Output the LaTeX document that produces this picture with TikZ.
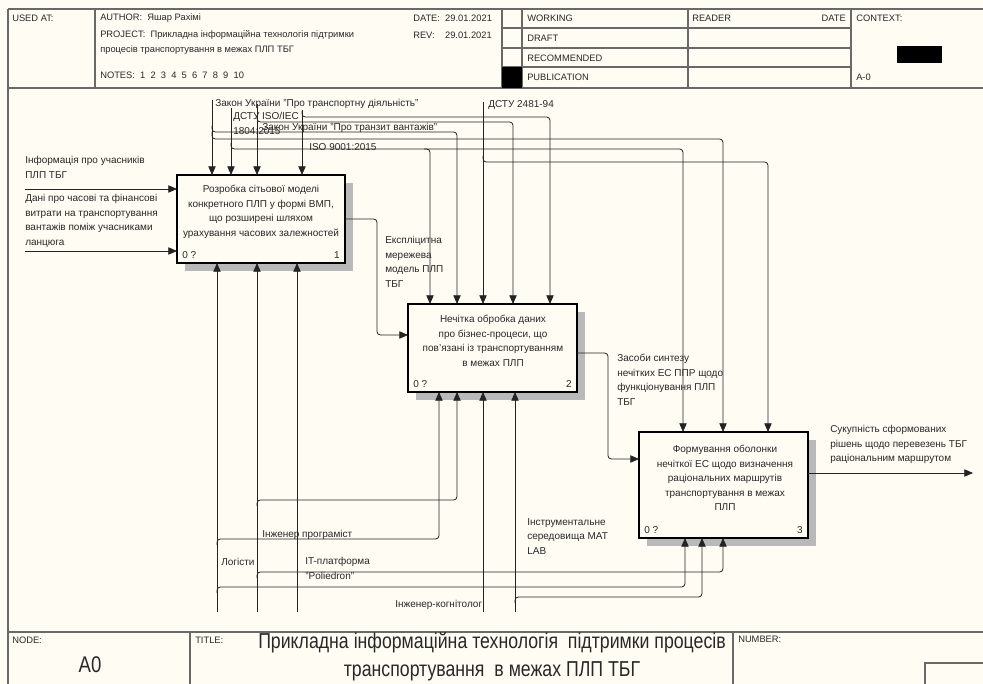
\documentclass[tikz,border=0pt]{standalone}
\usepackage{fontspec}
\setmainfont{Liberation Sans}
\newfontfamily\narrowfont[FakeStretch=0.82]{Liberation Sans}
\usetikzlibrary{arrows.meta,shadows}

\definecolor{paper}{RGB}{254,252,243}
\definecolor{frameline}{RGB}{105,105,105}
\definecolor{arrowline}{RGB}{35,35,35}
\definecolor{ink}{RGB}{40,40,40}

\newcommand{\lblfont}{\fontsize{7.5}{10.9}\selectfont}
\newcommand{\hdrfont}{\fontsize{7}{10}\selectfont}

\tikzset{
  frame/.style={draw=frameline,line width=0.9pt},
  heavy/.style={draw=frameline,line width=1.6pt},
  act/.style={draw=black,line width=1.5pt,fill=paper,inner sep=0pt,outer sep=0pt,
    drop shadow={shadow xshift=6pt,shadow yshift=-6pt,fill=gray!55,opacity=1}},
  arc/.style={draw=arrowline,line width=0.6pt,rounded corners=2.5pt,
    -{Triangle[length=6.5pt,width=5.5pt]}},
  lbl/.style={font=\lblfont,text=ink,align=left,anchor=north west,inner sep=0pt},
  boxtxt/.style={font=\lblfont,text=ink,align=center,inner sep=0pt},
  hdr/.style={font=\hdrfont,text=ink,anchor=west,inner sep=0pt},
}

\begin{document}
\begin{tikzpicture}[x=0.75pt,y=-0.75pt]
  % page
  \fill[paper] (0,0) rectangle (983,684);
  \useasboundingbox (0,0) rectangle (983,684);

  % header frame
  \draw[frame] (8,9) -- (983,9);
  \draw[frame] (8,9) -- (8,684);
  \draw[heavy] (8,88) -- (983,88);
  \draw[frame] (95,9) -- (95,88);
  \draw[frame] (502,9) -- (502,88);
  \draw[frame] (522,9) -- (522,88);
  \draw[frame] (688,9) -- (688,88);
  \draw[frame] (851,9) -- (851,88);
  \foreach \yy in {28,48,67}
    \draw[frame] (502,\yy) -- (851,\yy);
  \fill[black] (502,67) rectangle (522,88);
  \fill[black] (897,46) rectangle (942,63);

  % header texts
  \node[hdr] (usedat) at (12,18) {USED AT:};
  \node[hdr] (author) at (100,18) {AUTHOR:\ \ Яшар Рахімі};
  \node[hdr] (project) at (100,35) {PROJECT:\ \ Прикладна інформаційна технологія підтримки};
  \node[hdr] (project2) at (100,50) {процесів транспортування в межах ПЛП ТБГ};
  \node[hdr] (notes) at (100,75) {NOTES:\ \ 1\ \ 2\ \ 3\ \ 4\ \ 5\ \ 6\ \ 7\ \ 8\ \ 9\ \ 10};
  \node[hdr] (date) at (413,18) {DATE:\ \ 29.01.2021};
  \node[hdr] (rev) at (413,35) {REV:\ \ \ \ 29.01.2021};
  \node[hdr] (working) at (527,18) {WORKING};
  \node[hdr] (draft) at (527,38) {DRAFT};
  \node[hdr] (recom) at (527,58) {RECOMMENDED};
  \node[hdr] (public) at (527,77) {PUBLICATION};
  \node[hdr] (reader) at (692,18) {READER};
  \node[hdr,anchor=east] (rdate) at (846,18) {DATE};
  \node[hdr] (context) at (856,18) {CONTEXT:};
  \node[hdr] (aminus) at (856,77) {A-0};

  % footer frame
  \draw[heavy] (8,632) -- (983,632);
  \draw[frame] (190,632) -- (190,684);
  \draw[frame] (733,632) -- (733,684);
  \draw[frame] (925,684) -- (925,663) -- (983,663);
  \node[hdr] (nodehd) at (12,640) {NODE:};
  \node[hdr] (titlehd) at (195,640) {TITLE:};
  \node[hdr] (numberhd) at (738,639) {NUMBER:};
  \node[font=\narrowfont\fontsize{17}{20}\selectfont,text=ink] (nodeid) at (90,665) {A0};
  \node[font=\narrowfont\fontsize{16.2}{21}\selectfont,text=ink,align=center] (title) at (492,657)
    {Прикладна інформаційна технологія\ \ підтримки процесів\\транспортування\ \ в межах ПЛП ТБГ};

  % activity boxes
  \node[act,minimum width=126pt,minimum height=66pt] (b1) at (261,219) {};
  \node[act,minimum width=126.75pt,minimum height=66pt] (b2) at (492.5,348) {};
  \node[act,minimum width=126.75pt,minimum height=79.5pt] (b3) at (723.5,485) {};

  \node[boxtxt] (t1) at (261,212) {Розробка сітьової моделі\\конкретного ПЛП у формі ВМП,\\що розширені шляхом\\урахування часових залежностей};
  \node[boxtxt] (t2) at (493,341) {Нечітка обробка даних\\про бізнес-процеси, що\\пов'язані із транспортуванням\\в межах ПЛП};
  \node[boxtxt] (t3) at (725,478) {Формування оболонки\\нечіткої ЕС щодо визначення\\раціональних маршрутів\\транспортування в межах\\ПЛП};

  \node[lbl,anchor=south west] (n1) at ([shift={(5,-4)}]b1.south west) {0 ?};
  \node[lbl,anchor=south east] (k1) at ([shift={(-5,-4)}]b1.south east) {1};
  \node[lbl,anchor=south west] (n2) at ([shift={(5,-4)}]b2.south west) {0 ?};
  \node[lbl,anchor=south east] (k2) at ([shift={(-5,-4)}]b2.south east) {2};
  \node[lbl,anchor=south west] (n3) at ([shift={(5,-4)}]b3.south west) {0 ?};
  \node[lbl,anchor=south east] (k3) at ([shift={(-5,-4)}]b3.south east) {3};

  % free ends
  \coordinate (i1) at (25,189);
  \coordinate (i2) at (25,251);
  \coordinate (c1) at (212,100);
  \coordinate (c2) at (231,108);
  \coordinate (c3) at (257,104);
  \coordinate (c4) at (302,110);
  \coordinate (c5) at (483,102);
  \coordinate (m1) at (217,612);
  \coordinate (m2) at (257,612);
  \coordinate (m3) at (297,612);
  \coordinate (m4) at (483,612);
  \coordinate (m5) at (515,612);
  \coordinate (o3) at (973,473);

  % inputs
  \draw[arc] (i1) -- (i1 -| b1.west);
  \draw[arc] (i2) -- (i2 -| b1.west);
  \node[lbl] (li1) at (25,156) {Інформація про учасників\\ПЛП ТБГ};
  \node[lbl] (li2) at (25,194) {Дані про часові та фінансові\\витрати на транспортування\\вантажів поміж учасниками\\ланцюга};

  % controls
  \draw[arc] (c1) -- (c1 |- b1.north);
  \draw[arc] (c2) -- (c2 |- b1.north);
  \draw[arc] (c3) -- (c3 |- b1.north);
  \draw[arc] (c4) -- (c4 |- b1.north);
  \draw[arc] (c5) -- (c5 |- b2.north);
  \draw[arc] (212,126) -- (212,132) -- (457,132) -- (457,0 |- b2.north);
  \draw[arc] (212,132) -- (212,139) -- (723,139) -- (723,0 |- b3.north);
  \draw[arc] (231,143) -- (231,149) -- (683,149) -- (683,0 |- b3.north);
  \draw[arc] (424,149) -- (430,149) -- (430,0 |- b2.north);
  \draw[arc] (257,116) -- (257,122) -- (513,122) -- (513,0 |- b2.north);
  \draw[arc] (302,111) -- (302,117) -- (550,117) -- (550,0 |- b2.north);
  \draw[arc] (483,156) -- (483,162) -- (768,162) -- (768,0 |- b3.north);
  \node[lbl] (lc1) at (215,99) {Закон України "Про транспортну діяльність"};
  \node[lbl] (lc2) at (233,112) {ДСТУ ISO/IEC\\1804:2015};
  \node[lbl] (lc3) at (262,123) {Закон України "Про транзит вантажів"};
  \node[lbl] (lc4) at (309,143) {ISO 9001:2015};
  \node[lbl] (lc5) at (488,100) {ДСТУ 2481-94};

  % outputs
  \draw[arc] (b1.east) -- (377,219) -- (377,335) -- (b2.west |- 0,335);
  \draw[arc] (b2.east |- 0,353) -- (608,353) -- (608,459) -- (b3.west |- 0,459);
  \draw[arc] (b3.east |- o3) -- (o3);
  \node[lbl] (lo1) at (385,236) {Експліцитна\\мережева\\модель ПЛП\\ТБГ};
  \node[lbl] (lo2) at (617,354) {Засоби синтезу\\нечітких ЕС ППР щодо\\функціонування ПЛП\\ТБГ};
  \node[lbl] (lo3) at (830,425) {Сукупність сформованих\\рішень щодо перевезень ТБГ\\раціональним маршрутом};

  % mechanisms
  \draw[arc] (m1) -- (m1 |- b1.south);
  \draw[arc] (m2) -- (m2 |- b1.south);
  \draw[arc] (m3) -- (m3 |- b1.south);
  \draw[arc] (m4) -- (m4 |- b2.south);
  \draw[arc] (m5) -- (m5 |- b2.south);
  \draw[arc] (217,545) -- (217,539) -- (439,539) -- (439,0 |- b2.south);
  \draw[arc] (257,506) -- (257,500) -- (457,500) -- (457,0 |- b2.south);
  \draw[arc] (257,578) -- (257,572) -- (723,572) -- (723,0 |- b3.south);
  \draw[arc] (217,593) -- (217,587) -- (685,587) -- (685,0 |- b3.south);
  \draw[arc] (515,603) -- (515,597) -- (702,597) -- (702,0 |- b3.south);
  \node[lbl] (lm1) at (262,530) {Інженер програміст};
  \node[lbl] (lm2) at (221,558) {Логісти};
  \node[lbl] (lm3) at (305,557) {IT-платформа\\"Poliedron"};
  \node[lbl] (lm4) at (527,518) {Інструментальне\\середовища МАТ\\LAB};
  \node[lbl] (lm5) at (395,600) {Інженер-когнітолог};
\end{tikzpicture}
\end{document}
